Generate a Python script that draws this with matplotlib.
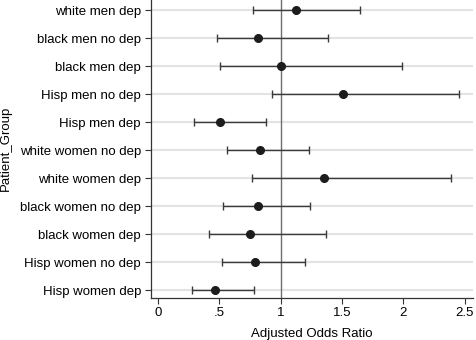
import matplotlib
matplotlib.use("Agg")
import matplotlib.pyplot as plt

groups = ["white men dep", "black men no dep", "black men dep", "Hisp men no dep",
          "Hisp men dep", "white women no dep", "white women dep", "black women no dep",
          "black women dep", "Hisp women no dep", "Hisp women dep"]
odds = [1.125, 0.815, 1.005, 1.508, 0.508, 0.831, 1.353, 0.812, 0.753, 0.791, 0.462]
lower = [0.772, 0.481, 0.505, 0.929, 0.296, 0.565, 0.769, 0.532, 0.416, 0.519, 0.275]
upper = [1.644, 1.388, 1.989, 2.456, 0.883, 1.228, 2.388, 1.236, 1.367, 1.198, 0.782]
xticks = [0, 0.5, 1, 1.5, 2, 2.5]
xticklabels = ["0", ".5", "1", "1.5", "2", "2.5"]

plt.rcParams['font.family'] = ['Liberation Sans', 'DejaVu Sans']
fig = plt.figure(figsize=(4.76, 3.40), dpi=100)
ax = fig.add_axes([0.3166, 0.1244, 0.993 - 0.3166, 1.0 - 0.1244])

ypos = list(range(len(groups)))
for y in ypos:
    ax.axhline(y, color='#e3e3e3', lw=1.5, zorder=0)
ax.axvline(1, color='#6e6e6e', lw=1.0, zorder=1)

err = [[o - l for o, l in zip(odds, lower)], [u - o for o, u in zip(odds, upper)]]
ax.errorbar(odds, ypos, xerr=err, fmt='o', color='#1c1c1c', ecolor='#3a3a3a',
            elinewidth=1.0, capsize=3, capthick=1.0, markersize=5.5, zorder=3)

ax.set_ylim(10.275, -0.36)
ax.set_xlim(-0.06, 2.565)
ax.set_yticks(ypos)
ax.set_yticklabels(groups, fontsize=9.5)
ax.set_xticks(xticks)
ax.set_xticklabels(xticklabels, fontsize=9.5)
ax.tick_params(axis='both', direction='out', length=4, width=0.8, color='#333333', pad=3)
for s in ['top', 'right']:
    ax.spines[s].set_visible(False)
for s in ['left', 'bottom']:
    ax.spines[s].set_color('#333333')
    ax.spines[s].set_linewidth(0.9)

ax.set_xlabel("Adjusted Odds Ratio", fontsize=9.5, labelpad=6)
ax.set_ylabel("Patient_Group", fontsize=9.5, labelpad=6)

fig.savefig("out.png", dpi=100)
